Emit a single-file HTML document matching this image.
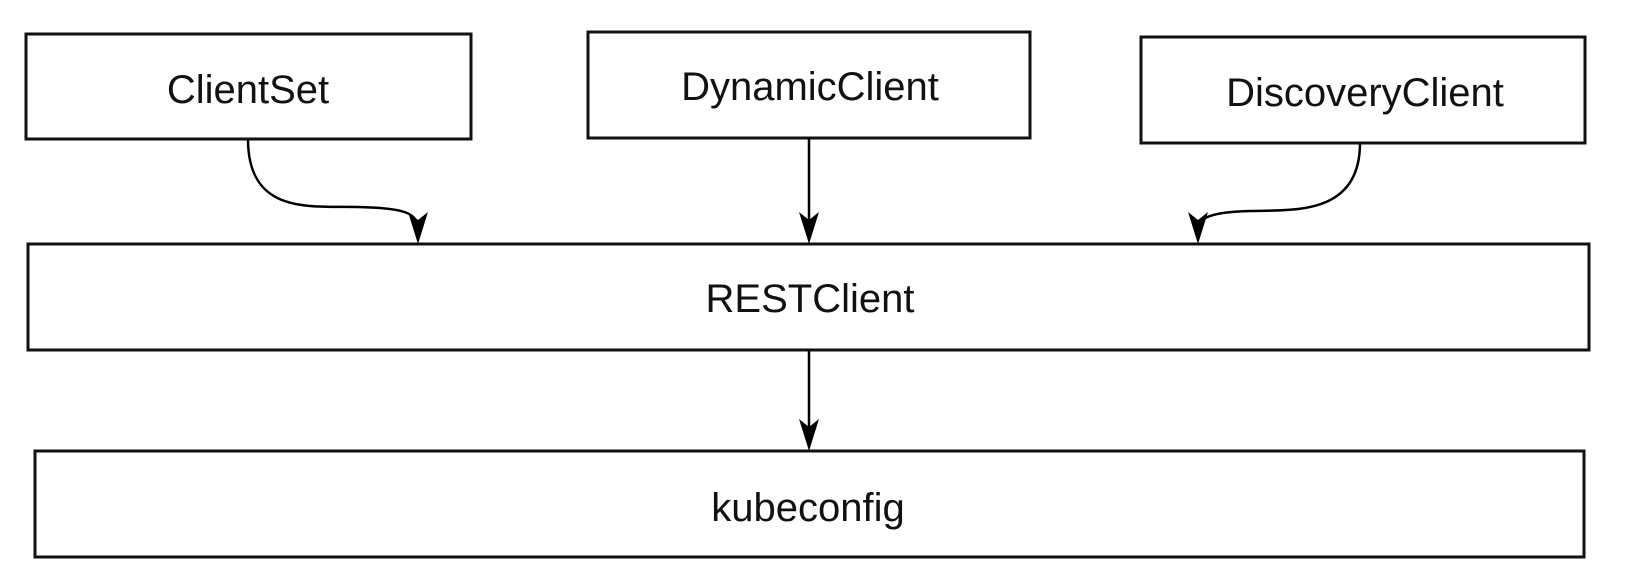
<!DOCTYPE html>
<html><head><style>
html,body{margin:0;padding:0;background:#fff;}
svg{display:block;}
text{font-family:"Liberation Sans",sans-serif;font-size:40px;fill:#111;text-anchor:middle;dominant-baseline:central;}
</style></head><body>
<svg width="1626" height="588" viewBox="0 0 1626 588">
<g fill="#fff" stroke="#111" stroke-width="3">
<rect x="26" y="34" width="445" height="105"/>
<rect x="588" y="32" width="442" height="106"/>
<rect x="1141" y="37" width="444" height="106"/>
<rect x="28" y="244" width="1561" height="106"/>
<rect x="35" y="451" width="1549" height="106"/>
</g>
<g fill="none" stroke="#000" stroke-width="2.5">
<path d="M248,139 C248,215 310,206 358,207 C403,208 418,212 418,230"/>
<path d="M809,138 L809,230"/>
<path d="M1360,143 C1360,215 1295,210 1250,211 C1210,212 1198,218 1198,230"/>
<path d="M809,350 L809,437"/>
</g>
<g fill="#000">
<path d="M408,212 L418,220 L428,212 L418,244 Z"/>
<path d="M799,212 L809,220 L819,212 L809,244 Z"/>
<path d="M1188,212 L1198,220 L1208,212 L1198,244 Z"/>
<path d="M799,419 L809,427 L819,419 L809,451 Z"/>
</g>
<text x="248" y="90">ClientSet</text>
<text x="810" y="87">DynamicClient</text>
<text x="1365" y="93">DiscoveryClient</text>
<text x="810" y="299">RESTClient</text>
<text x="808" y="508">kubeconfig</text>
</svg>
</body></html>
